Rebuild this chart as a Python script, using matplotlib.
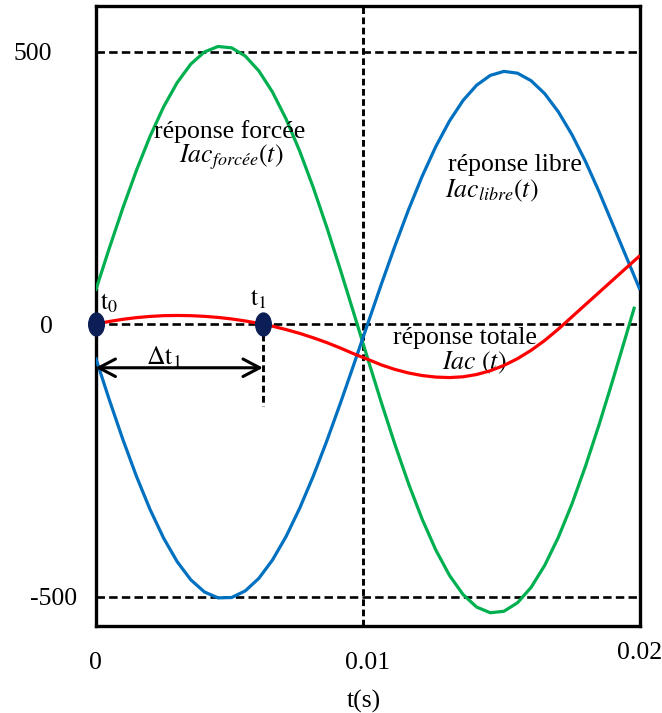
import matplotlib
matplotlib.use("Agg")
import matplotlib.pyplot as plt
from matplotlib.path import Path
from matplotlib.transforms import Affine2D, ScaledTranslation

# ---------------- data ----------------
t = [0.0, 0.0005, 0.001, 0.0015, 0.002, 0.0025, 0.003, 0.0035, 0.004, 0.0045,
     0.005, 0.0055, 0.006, 0.0065, 0.007, 0.0075, 0.008, 0.0085, 0.009, 0.0095,
     0.010, 0.0105, 0.011, 0.0115, 0.012, 0.0125, 0.013, 0.0135, 0.014, 0.0145,
     0.015, 0.0155, 0.016, 0.0165, 0.017, 0.0175, 0.018, 0.0185, 0.019, 0.0195,
     0.020]

t_forcee = t[:-1] + [0.0198]
iac_forcee = [61.1, 138.4, 212.6, 281.8, 344.4, 398.7, 443.4, 477.4, 499.6, 509.7,
              507.2, 492.2, 464.9, 426.1, 376.7, 317.7, 250.6, 177.2, 99.0, 18.1,
              -63.5, -143.9, -221.0, -293.0, -358.1, -414.5, -460.9, -496.2, -519.3, -529.7,
              -527.0, -511.4, -483.1, -442.7, -391.3, -330.0, -260.3, -184.0, -102.8, -18.8,
              32.0]

iac_libre = [-60.9, -137.7, -210.9, -278.7, -339.7, -392.5, -435.9, -469.2, -491.5, -502.4,
             -501.7, -489.6, -466.5, -432.9, -389.7, -337.8, -278.8, -213.8, -144.4, -72.3,
             0.8, 73.5, 143.8, 210.4, 271.6, 326.1, 372.7, 410.6, 438.7, 456.6,
             464.0, 460.7, 446.9, 423.1, 389.8, 347.9, 298.5, 242.7, 183.0, 123.0,
             63.0]

iac_totale = [0.0, 4.9, 8.9, 12.0, 14.2, 15.6, 16.0, 15.6, 14.4, 12.4,
              9.6, 5.9, 1.5, -3.7, -9.9, -16.9, -25.0, -33.9, -43.9, -54.7,
              -64.5, -74.8, -83.1, -89.6, -94.3, -97.1, -98.0, -96.6, -92.4, -85.5,
              -75.8, -63.3, -48.0, -29.9, -9.1, 13.5, 36.0, 58.5, 81.0, 103.5,
              126.0]

t_events = [0.0, 0.00615]          # t0, t1
event_labels = [r"$\mathrm{t}_0$", r"$\mathrm{t}_1$"]
t_vline = 0.00983                  # dashed vertical line near 0.01
hlines = [500, 0, -500]
dt_arrow_y = -80
t1_drop = -150

xticks = [0, 0.01, 0.02]
xtick_labels = ["0", "0.01", "0.02"]
yticks = [500, 0, -500]
ytick_labels = ["500", "0", "-500"]

# ---------------- style ----------------
plt.rcParams["font.family"] = ["Liberation Serif", "DejaVu Serif"]
plt.rcParams["mathtext.fontset"] = "stix"

GREEN = "#00B050"
BLUE = "#0070C0"
RED = "#FF0000"
NAVY = "#0B1F56"
FS = 18.5

fig = plt.figure(figsize=(6.62, 7.13), dpi=100)
ax = fig.add_axes([95.5 / 662, 1 - 626 / 713, (640 - 95.5) / 662, (626 - 6) / 713])
ax.set_xlim(0, 0.02)
ax.set_ylim(-554, 584)

for s in ax.spines.values():
    s.set_linewidth(2.4)
    s.set_color("black")

# reference dashed lines
for h in hlines:
    ax.axhline(h, color="black", lw=1.9, dashes=(3.2, 1.6), zorder=1)
ax.axvline(t_vline, color="black", lw=2.1, dashes=(2.3, 1.2), zorder=1)
ax.plot([t_events[1], t_events[1]], [0, t1_drop], color="black", lw=2.1,
        dashes=(2.3, 1.2), zorder=1)

# curves
ax.plot(t_forcee, iac_forcee, color=GREEN, lw=2.3, zorder=3, solid_capstyle="butt")
ax.plot(t, iac_libre, color=BLUE, lw=2.3, zorder=3, solid_capstyle="butt")
ax.plot(t, iac_totale, color=RED, lw=2.3, zorder=4, solid_capstyle="butt")

# event markers (tall ellipses)
ell = Path.unit_circle().transformed(Affine2D().scale(0.68, 1.0))
ax.plot(t_events, [0, 0], linestyle="none", marker=ell, ms=16.5,
        color=NAVY, zorder=6, clip_on=False)

# delta t arrow
ax.annotate("", xy=(t_events[1], dt_arrow_y), xytext=(t_events[0], dt_arrow_y),
            arrowprops=dict(arrowstyle="<->,head_length=0.8,head_width=0.42",
                            mutation_scale=15, lw=2.2, color="black",
                            shrinkA=0, shrinkB=0), zorder=5)

# texts
ax.text(0.00048, 38, event_labels[0], fontsize=FS, ha="center", va="center")
ax.text(0.00597, 45, event_labels[1], fontsize=FS, ha="center", va="center")
ax.text(0.00252, -60, r"$\Delta\mathrm{t}_1$", fontsize=FS, ha="center", va="center")

ax.text(0.00494, 354, "réponse forcée", fontsize=FS, ha="center", va="center")
ax.text(0.00498, 307, r"$Iac_{forcée}(t)$", fontsize=FS, ha="center", va="center")
ax.text(0.01541, 293, "réponse libre", fontsize=FS, ha="center", va="center")
ax.text(0.01284, 244, r"$Iac_{libre}(t)$", fontsize=FS, ha="left", va="center")
ax.text(0.01357, -25, "réponse totale", fontsize=FS, ha="center", va="center")
ax.text(0.01391, -71, r"$Iac\ (t)$", fontsize=FS, ha="center", va="center")

# ticks
ax.set_xticks(xticks)
ax.set_xticklabels(xtick_labels)
ax.set_yticks(yticks)
ax.set_yticklabels(ytick_labels)
ax.tick_params(axis="both", length=0, labelsize=FS)
ax.tick_params(axis="x", pad=19)
ax.tick_params(axis="y", pad=31)

for lab in ax.get_yticklabels():
    if lab.get_text() == "-500":
        lab.set_transform(lab.get_transform() + ScaledTranslation(25 / 100, 0, fig.dpi_scale_trans))
for lab in ax.get_xticklabels():
    if lab.get_text() == "0.02":
        lab.set_transform(lab.get_transform() + ScaledTranslation(0, 10 / 100, fig.dpi_scale_trans))

ax.set_xlabel("t(s)", fontsize=FS)
ax.xaxis.label.set_va("center")
ax.xaxis.set_label_coords((364 - 95.5) / 544.5, (626 - 701) / 620)

fig.savefig("out.png", dpi=100)
